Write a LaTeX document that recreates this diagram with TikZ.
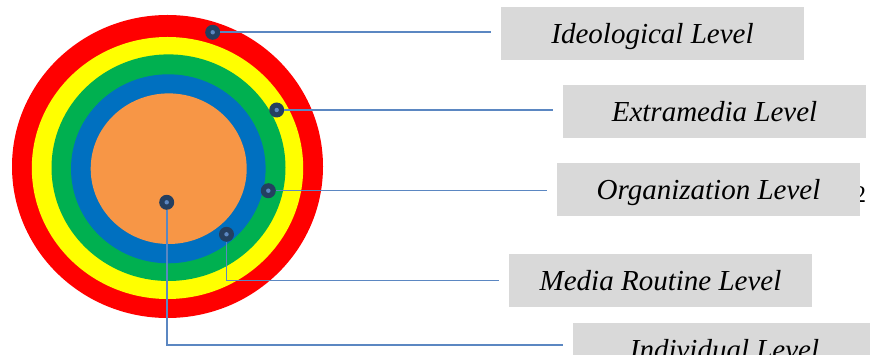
\documentclass[tikz,border=0pt]{standalone}
\usepackage{fontspec}
\setmainfont{Liberation Serif}
\usepackage{xcolor}
\definecolor{ringred}{HTML}{FF0000}
\definecolor{ringyellow}{HTML}{FFFF00}
\definecolor{ringgreen}{HTML}{00B050}
\definecolor{ringblue}{HTML}{0070C0}
\definecolor{ringorange}{HTML}{F79646}
\definecolor{dotnavy}{HTML}{243F60}
\definecolor{leadblue}{HTML}{5B87C2}
\definecolor{boxgray}{HTML}{D9D9D9}
\usetikzlibrary{positioning}
\tikzset{
  lvlbox/.style ={fill=boxgray,minimum width=303pt,minimum height=53pt,
                  inner sep=0pt,text height=20pt,text depth=0pt,
                  font=\fontsize{29}{34}\selectfont\itshape},
  dot/.style    ={circle,fill=dotnavy,minimum size=15pt,inner sep=0pt},
  lead/.style   ={draw=leadblue,line width=1.6pt,shorten >=10pt},
}
\begin{document}
\begin{tikzpicture}[x=1pt,y=-1pt]
\clip (0,0) rectangle (870,355);
% rings
\foreach \c/\cx/\cy/\rx/\ry in {ringred/167.5/166.5/155.5/151.5,
                               ringyellow/167.5/168/135.7/131,
                               ringgreen/168.5/167.7/117/113.3,
                               ringblue/168.3/168.8/97.3/94.5,
                               ringorange/168.7/168.7/78/75.3}
  {\fill[\c] (\cx,\cy) ellipse [x radius=\rx pt,y radius=\ry pt];}
% stray digit behind the box
\node[inner sep=0pt,font=\fontsize{24}{28}\selectfont] (stray) at (860,195) {2};
% level boxes
\node[lvlbox] (ideo)  at (652.5,34)  {Ideological Level};
\node[lvlbox] (extra) at (714.5,112) {Extramedia Level};
\node[lvlbox] (org)   at (708.5,190) {Organization Level};
\node[lvlbox] (rout)  at (660.5,280.5) {Media Routine Level};
\node[lvlbox] (indiv) at (724.5,349) {Individual Level};
% markers
\node[dot] (dideo)  at (212.7,32.3)  {};
\node[dot] (dextra) at (276.7,110)   {};
\node[dot] (dorg)   at (268.3,190.7) {};
\node[dot] (drout)  at (226.5,234.3) {};
\node[dot] (dindiv) at (166.7,202.3) {};
\foreach \d in {dideo,dextra,dorg,drout,dindiv}
  {\fill[leadblue] (\d) circle (2.2pt);}
% leaders
\coordinate (eindiv) at (indiv.west |- 0,345);
\draw[lead] (dideo) -- (dideo -| ideo.west);
\draw[lead] (dextra) -- (dextra -| extra.west);
\draw[lead] (dorg) -- (dorg -| org.west);
\draw[lead] (drout) |- (rout.west);
\draw[lead] (dindiv) |- (eindiv);
\end{tikzpicture}
\end{document}
